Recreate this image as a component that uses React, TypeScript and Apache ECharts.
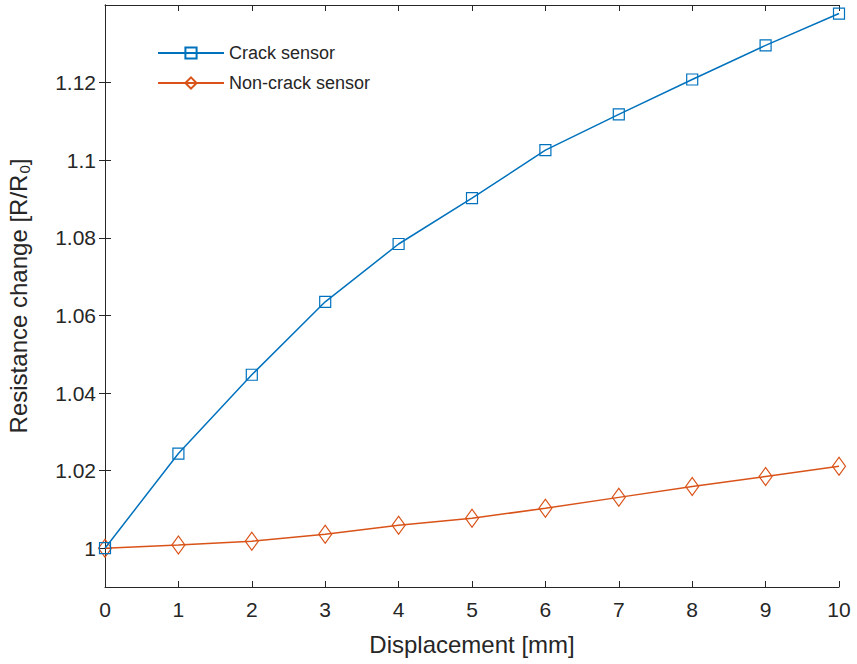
import React, { useEffect, useRef } from "react";
import * as echarts from "echarts";

const displacement = [0, 1, 2, 3, 4, 5, 6, 7, 8, 9, 10];
const crackSensor = [1.0, 1.0244, 1.0447, 1.0635, 1.0784, 1.0902, 1.1026, 1.1118, 1.1208, 1.1296, 1.1378];
const nonCrackSensor = [1.0, 1.0008, 1.0018, 1.0036, 1.0059, 1.0077, 1.0103, 1.0131, 1.0159, 1.0185, 1.0211];
const yTicks = [1, 1.02, 1.04, 1.06, 1.08, 1.1, 1.12];
const xTicks = [0, 1, 2, 3, 4, 5, 6, 7, 8, 9, 10];

const BLUE = "#0072BD";
const ORANGE = "#D95319";
const AX = "#262626";
const FONT = "'Liberation Sans', Arial, sans-serif";

export default function App() {
  const ref = useRef<HTMLDivElement>(null);
  useEffect(() => {
    if (!ref.current) return;
    const chart = echarts.init(ref.current, undefined, { renderer: "svg" });
    const axisLine = { show: true, lineStyle: { color: AX, width: 1 } };
    const tickIn = { show: true, inside: true, length: 6, lineStyle: { color: AX, width: 1 } };
    const pairs = (ys: number[]) => displacement.map((x, i) => [x, ys[i]]);
    chart.setOption({
      animation: false,
      backgroundColor: "#fff",
      textStyle: { fontFamily: FONT },
      grid: { left: 105, right: 18, top: 5, bottom: 77, outerBoundsMode: "none", containLabel: false },
      legend: {
        orient: "vertical",
        left: 152,
        top: 39,
        itemWidth: 66,
        itemHeight: 14,
        itemGap: 12,
        textStyle: { fontSize: 18, color: AX, fontFamily: FONT },
        data: ["Crack sensor", "Non-crack sensor"],
      },
      xAxis: [
        {
          type: "value",
          min: 0,
          max: 10,
          interval: 1,
          axisLine,
          axisTick: { ...tickIn, customValues: xTicks },
          axisLabel: { color: AX, fontSize: 21, margin: 12, customValues: xTicks, fontFamily: FONT },
          splitLine: { show: false },
          name: "Displacement [mm]",
          nameLocation: "middle",
          nameGap: 45,
          nameTextStyle: { fontSize: 24, color: AX, fontFamily: FONT },
        },
        {
          type: "value",
          position: "top",
          min: 0,
          max: 10,
          interval: 1,
          axisLine,
          axisTick: { ...tickIn, customValues: xTicks },
          axisLabel: { show: false },
          splitLine: { show: false },
        },
      ],
      yAxis: [
        {
          type: "value",
          min: 0.99,
          max: 1.14,
          axisLine,
          axisTick: { ...tickIn, customValues: yTicks },
          axisLabel: { color: AX, fontSize: 21, margin: 9, customValues: yTicks, fontFamily: FONT },
          splitLine: { show: false },
          name: "Resistance change [R/R{sub|0}]",
          nameLocation: "middle",
          nameRotate: 90,
          nameGap: 73,
          nameTextStyle: {
            fontSize: 24,
            color: AX,
            fontFamily: FONT,
            rich: { sub: { fontSize: 15, color: AX, fontFamily: FONT, padding: [12, 0, 0, 1] } },
          },
        },
        {
          type: "value",
          position: "right",
          min: 0.99,
          max: 1.14,
          axisLine,
          axisTick: { ...tickIn, customValues: yTicks },
          axisLabel: { show: false },
          splitLine: { show: false },
        },
      ],
      series: [
        {
          name: "Crack sensor",
          type: "line",
          data: pairs(crackSensor),
          color: BLUE,
          symbol: "rect",
          symbolSize: 11,
          lineStyle: { color: BLUE, width: 1.5 },
          itemStyle: { color: "rgba(255,255,255,0)", borderColor: BLUE, borderWidth: 1.2 },
          z: 3,
        },
        {
          name: "Non-crack sensor",
          type: "line",
          data: pairs(nonCrackSensor),
          color: ORANGE,
          symbol: "diamond",
          symbolSize: [13, 18],
          lineStyle: { color: ORANGE, width: 1.5 },
          itemStyle: { color: "rgba(255,255,255,0)", borderColor: ORANGE, borderWidth: 1.2 },
          z: 2,
        },
      ],
    });
    return () => chart.dispose();
  }, []);
  return (
    <div
      ref={ref}
      style={{ position: "fixed", left: 0, top: 0, width: 857, height: 664 }}
    />
  );
}
